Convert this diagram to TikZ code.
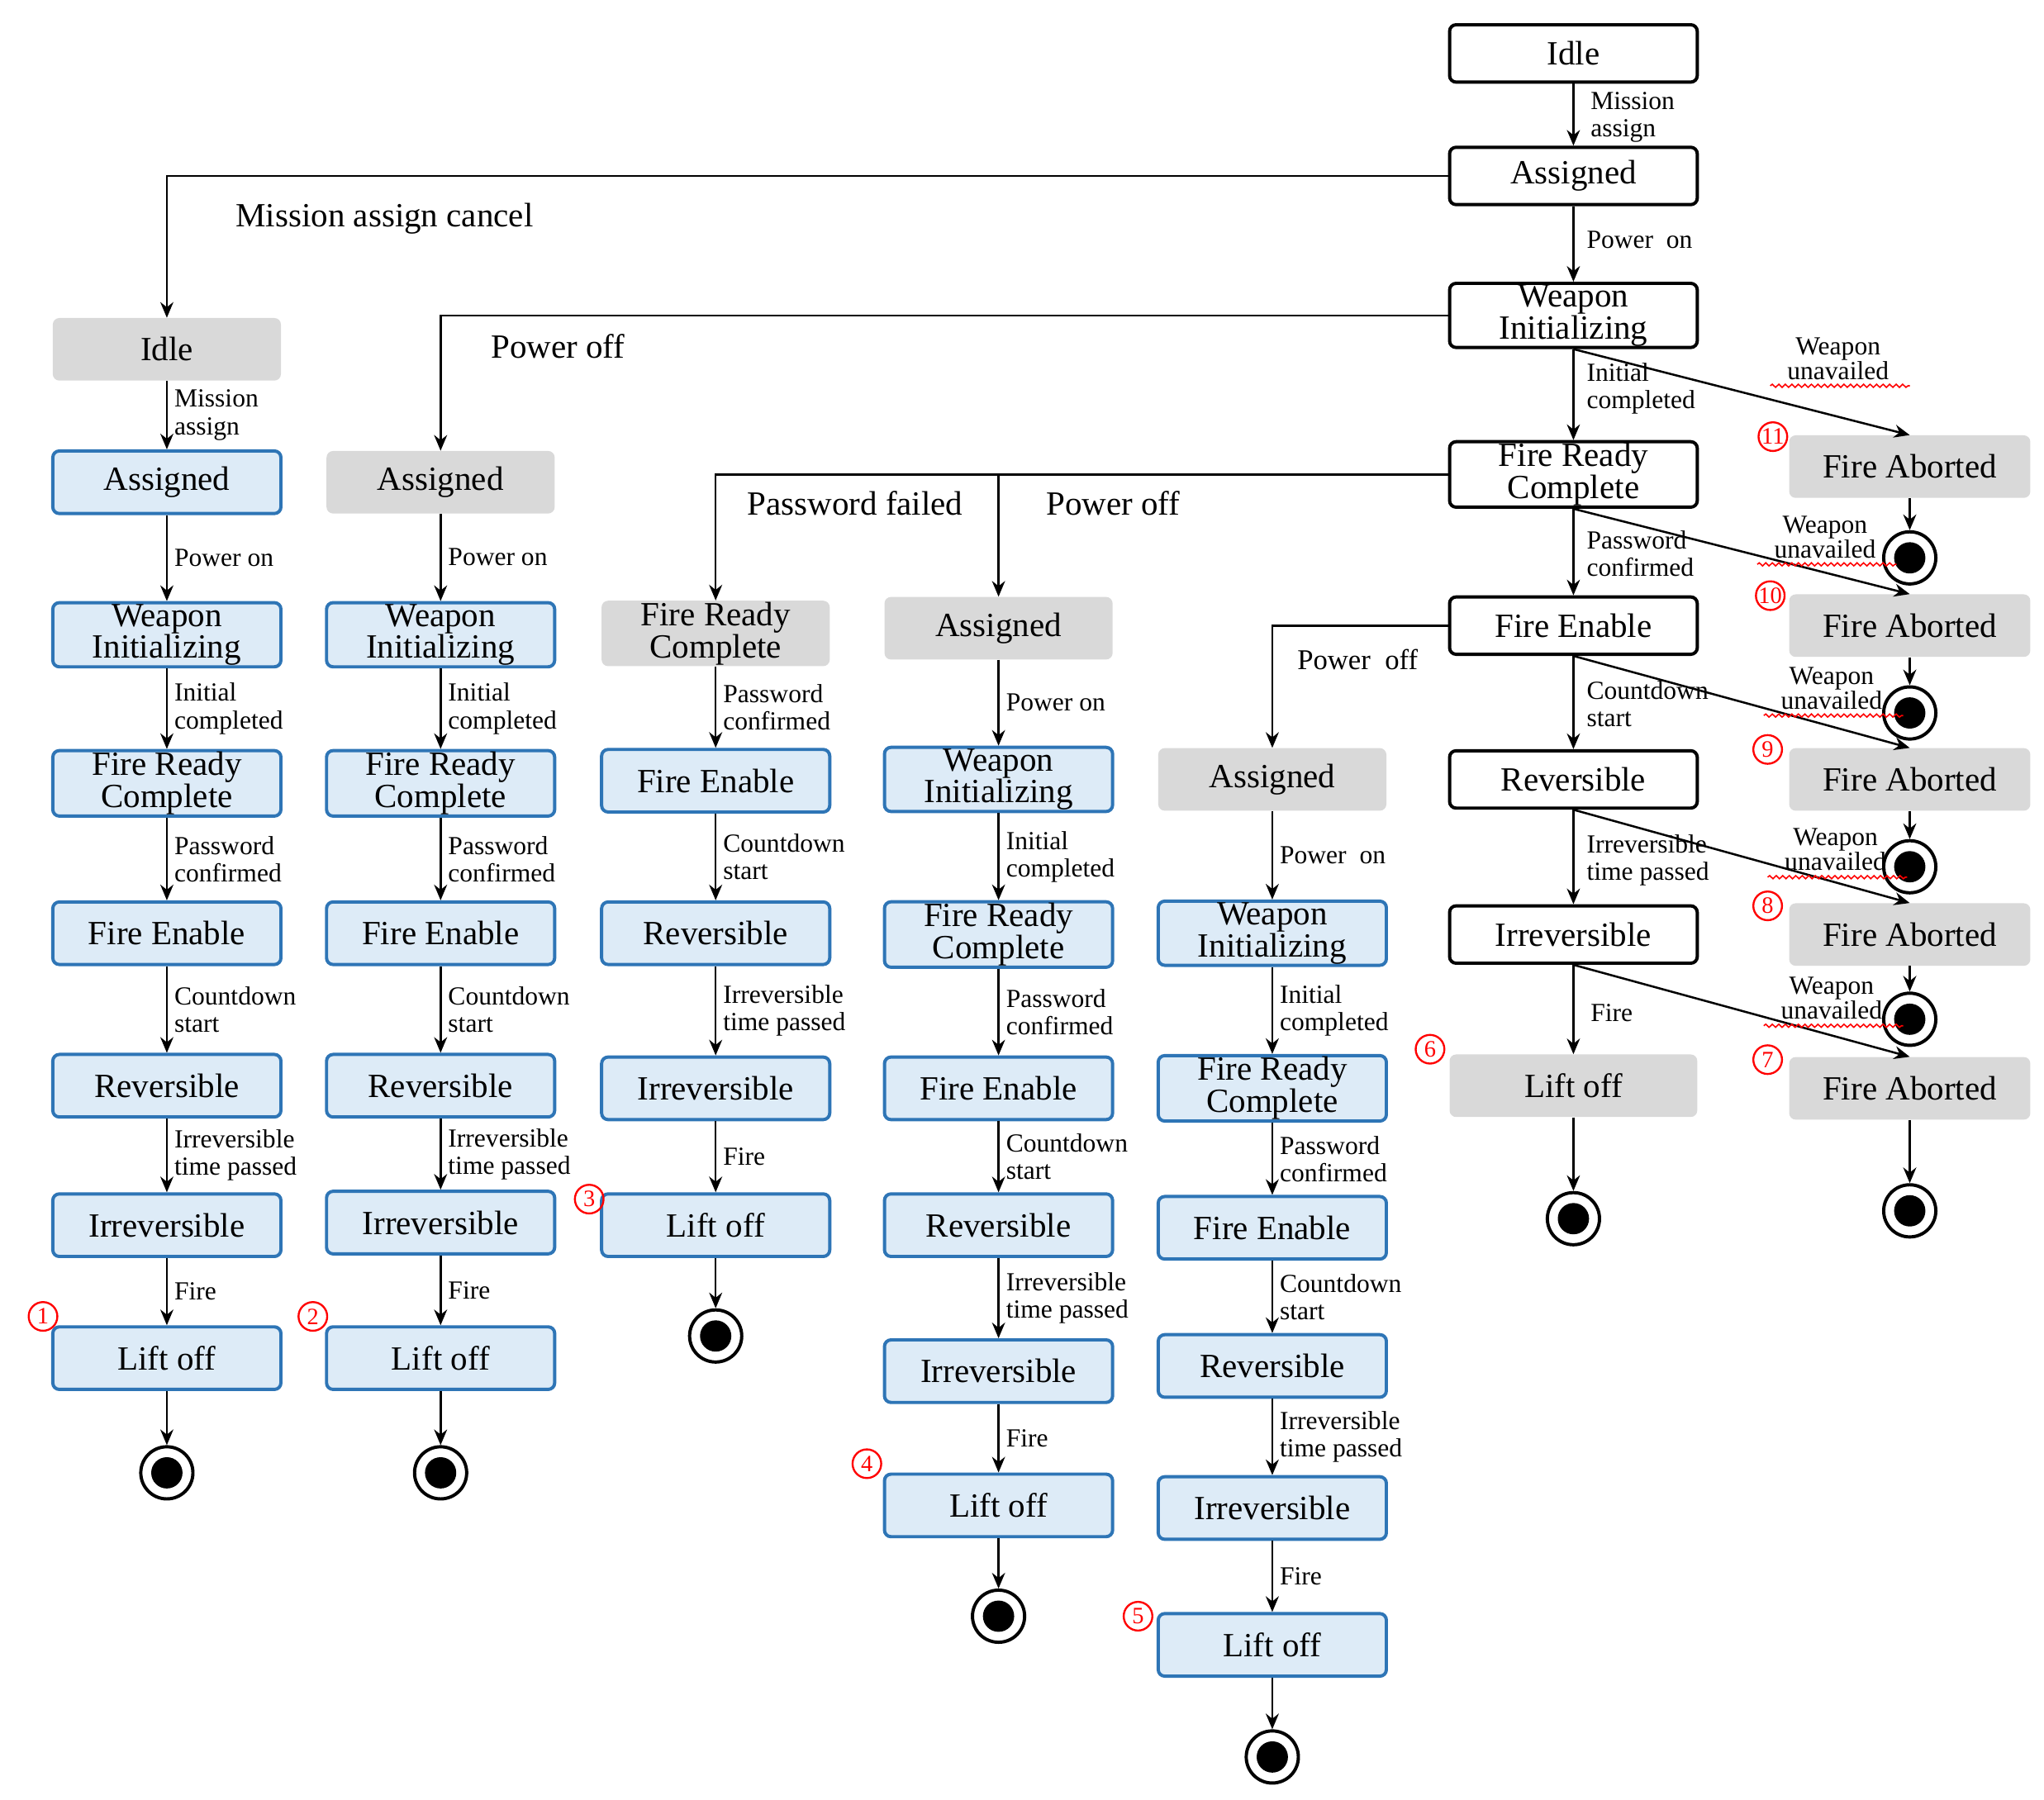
\documentclass[tikz,border=0pt]{standalone}
\usepackage{fontspec}
\setmainfont{Liberation Serif}
\usetikzlibrary{arrows.meta,decorations.pathmorphing}
\definecolor{bb}{HTML}{2E75B6}
\definecolor{lb}{HTML}{DDEBF7}
\definecolor{gg}{HTML}{D9D9D9}
\begin{document}
\begin{tikzpicture}[x=1pt,y=-1pt,
 box/.style={rounded corners=5pt,minimum width=175pt,minimum height=48pt,inner sep=1pt,align=center,font=\fontsize{26}{23}\selectfont},
 blue/.style={box,draw=bb,fill=lb,line width=2.5pt},
 gray/.style={box,fill=gg},
 white/.style={box,draw=black,fill=white,line width=2.5pt,minimum width=190pt,minimum height=44pt},
 lab/.style={font=\fontsize{20}{21}\selectfont,align=left,anchor=west,inner sep=2pt,xshift=3pt},
 big/.style={font=\fontsize{26}{26}\selectfont,inner sep=1pt},
 arr/.style={-{Stealth[length=12pt,width=10pt]},line width=1.6pt},
 endn/.style={circle,draw=black,line width=2.5pt,minimum size=40pt,inner sep=0pt,path picture={\fill (path picture bounding box.center) circle (12pt);}},
 num/.style={circle,draw=red,text=red,line width=1.5pt,inner sep=0pt,minimum size=22pt,font=\fontsize{18}{18}\selectfont},
 wl/.style={font=\fontsize{20}{19}\selectfont,align=center,inner sep=1pt}]
\useasboundingbox (0,0) rectangle (1568,1381);
% column 6
\node[white] (i6) at (1207,41) {Idle};
\node[white] (a6) at (1207,135) {Assigned};
\node[white] (w6) at (1207,242) {Weapon\\Initializing};
\node[white] (r6) at (1207,364) {Fire Ready\\Complete};
\node[white] (e6) at (1207,480) {Fire Enable};
\node[white] (v6) at (1207,598) {Reversible};
\node[white] (x6) at (1207,717) {Irreversible};
\node[gray,minimum width=190pt] (l6) at (1207,833) {Lift off};
\node[endn] (z6) at (1207,935) {};
\draw[arr] (i6) -- (a6);
\draw[arr] (a6) -- (w6);
\draw[arr] (w6) -- (r6);
\draw[arr] (r6) -- (e6);
\draw[arr] (e6) -- (v6);
\draw[arr] (v6) -- (x6);
\draw[arr] (x6) -- (l6);
\draw[arr] (l6) -- (z6);
\node[lab] at (1215,90) {Mission\\assign};
\node[lab] at (1212,184) {Power\ \ on};
\node[lab] at (1212,298) {Initial\\completed};
\node[lab] at (1212,425) {Password\\confirmed};
\node[lab] at (1212,540) {Countdown\\start};
\node[lab] at (1212,660) {Irreversible\\time passed};
\node[lab] at (1215,777) {Fire};
% column 7
\foreach \k/\y in {1/358,2/480,3/598,4/717,5/835}{
 \node[gray,minimum width=185pt] (f\k) at (1465,\y) {Fire Aborted};}
\foreach \k/\y in {1/428,2/547,3/665,4/782,5/929}{
 \node[endn] (g\k) at (1465,\y) {};
 \draw[arr] (f\k) -- (g\k);}
\draw[arr] (w6.south) -- (f1.north);
\draw[arr] (r6.south) -- (f2.north);
\draw[arr] (e6.south) -- (f3.north);
\draw[arr] (v6.south) -- (f4.north);
\draw[arr] (x6.south) -- (f5.north);
\foreach \x/\y in {1410/275,1400/412,1405/528,1408/652,1405/766}{
 \node[wl] at (\x,\y) {Weapon\\unavailed};
 \draw[red,line width=1pt,decorate,decoration={snake,segment length=5pt,amplitude=1.2pt}] (\x-52,\y+21) -- (\x+55,\y+21);}
\node[num] at (1360,335) {11};
\node[num] at (1358,457) {10};
\node[num] at (1356,575) {9};
\node[num] at (1356,695) {8};
\node[num] at (1356,813) {7};
\node[num] at (1097,805) {6};
% column 1
\node[gray] (i1) at (128,268) {Idle};
\node[blue] (a1) at (128,370) {Assigned};
\node[blue] (w1) at (128,487) {Weapon\\Initializing};
\node[blue] (r1) at (128,601) {Fire Ready\\Complete};
\node[blue] (e1) at (128,716) {Fire Enable};
\node[blue] (v1) at (128,833) {Reversible};
\node[blue] (x1) at (128,940) {Irreversible};
\node[blue] (l1) at (128,1042) {Lift off};
\node[endn] (z1) at (128,1130) {};
\draw[arr] (i1) -- node[lab]{Mission\\assign} (a1);
\draw[arr] (a1) -- node[lab]{Power on} (w1);
\draw[arr] (w1) -- node[lab]{Initial\\completed} (r1);
\draw[arr] (r1) -- node[lab]{Password\\confirmed} (e1);
\draw[arr] (e1) -- node[lab]{Countdown\\start} (v1);
\draw[arr] (v1) -- node[lab]{Irreversible\\time passed} (x1);
\draw[arr] (x1) -- node[lab]{Fire} (l1);
\draw[arr] (l1) -- (z1);
\node[num] at (33,1010) {1};
\draw[arr] (a6.west) -| (i1.north);
\node[big] at (295,168) {Mission assign cancel};
% column 2
\node[gray] (a2) at (338,370) {Assigned};
\node[blue] (w2) at (338,487) {Weapon\\Initializing};
\node[blue] (r2) at (338,601) {Fire Ready\\Complete};
\node[blue] (e2) at (338,716) {Fire Enable};
\node[blue] (v2) at (338,833) {Reversible};
\node[blue] (x2) at (338,938) {Irreversible};
\node[blue] (l2) at (338,1042) {Lift off};
\node[endn] (z2) at (338,1130) {};
\draw[arr] (a2) -- node[lab]{Power on} (w2);
\draw[arr] (w2) -- node[lab]{Initial\\completed} (r2);
\draw[arr] (r2) -- node[lab]{Password\\confirmed} (e2);
\draw[arr] (e2) -- node[lab]{Countdown\\start} (v2);
\draw[arr] (v2) -- node[lab]{Irreversible\\time passed} (x2);
\draw[arr] (x2) -- node[lab]{Fire} (l2);
\draw[arr] (l2) -- (z2);
\node[num] at (240,1010) {2};
\draw[arr] (w6.west) -| (a2.north);
\node[big] at (428,266) {Power off};
% column 3
\node[gray] (r3) at (549,486) {Fire Ready\\Complete};
\node[blue] (e3) at (549,599) {Fire Enable};
\node[blue] (v3) at (549,716) {Reversible};
\node[blue] (x3) at (549,835) {Irreversible};
\node[blue] (l3) at (549,940) {Lift off};
\node[endn] (z3) at (549,1025) {};
\draw[arr] (r3) -- node[lab]{Password\\confirmed} (e3);
\draw[arr] (e3) -- node[lab]{Countdown\\start} (v3);
\draw[arr] (v3) -- node[lab]{Irreversible\\time passed} (x3);
\draw[arr] (x3) -- node[lab]{Fire} (l3);
\draw[arr] (l3) -- (z3);
\node[num] at (452,920) {3};
\draw[arr] (r6.west) -| (r3.north);
\node[big] at (656,386) {Password failed};
% column 4
\coordinate (j4) at (766,364);
\node[gray] (a4) at (766,482) {Assigned};
\node[blue] (w4) at (766,598) {Weapon\\Initializing};
\node[blue] (r4) at (766,717) {Fire Ready\\Complete};
\node[blue] (e4) at (766,835) {Fire Enable};
\node[blue] (v4) at (766,940) {Reversible};
\node[blue] (x4) at (766,1052) {Irreversible};
\node[blue] (l4) at (766,1155) {Lift off};
\node[endn] (z4) at (766,1240) {};
\draw[arr] (j4) -- (a4);
\draw[arr] (a4) -- node[lab]{Power on} (w4);
\draw[arr] (w4) -- node[lab]{Initial\\completed} (r4);
\draw[arr] (r4) -- node[lab]{Password\\confirmed} (e4);
\draw[arr] (e4) -- node[lab]{Countdown\\start} (v4);
\draw[arr] (v4) -- node[lab]{Irreversible\\time passed} (x4);
\draw[arr] (x4) -- node[lab]{Fire} (l4);
\draw[arr] (l4) -- (z4);
\node[num] at (665,1123) {4};
\node[big] at (854,386) {Power off};
% column 5
\node[gray] (a5) at (976,598) {Assigned};
\node[blue] (w5) at (976,716) {Weapon\\Initializing};
\node[blue] (r5) at (976,835) {Fire Ready\\Complete};
\node[blue] (e5) at (976,942) {Fire Enable};
\node[blue] (v5) at (976,1048) {Reversible};
\node[blue] (x5) at (976,1157) {Irreversible};
\node[blue] (l5) at (976,1262) {Lift off};
\node[endn] (z5) at (976,1348) {};
\draw[arr] (a5) -- node[lab]{Power\ \ on} (w5);
\draw[arr] (w5) -- node[lab]{Initial\\completed} (r5);
\draw[arr] (r5) -- node[lab]{Password\\confirmed} (e5);
\draw[arr] (e5) -- node[lab]{Countdown\\start} (v5);
\draw[arr] (v5) -- node[lab]{Irreversible\\time passed} (x5);
\draw[arr] (x5) -- node[lab]{Fire} (l5);
\draw[arr] (l5) -- (z5);
\node[num] at (873,1240) {5};
\draw[arr] (e6.west) -| (a5.north);
\node[lab,font=\fontsize{22}{22}\selectfont] at (990,506) {Power\ \ off};
\end{tikzpicture}
\end{document}
